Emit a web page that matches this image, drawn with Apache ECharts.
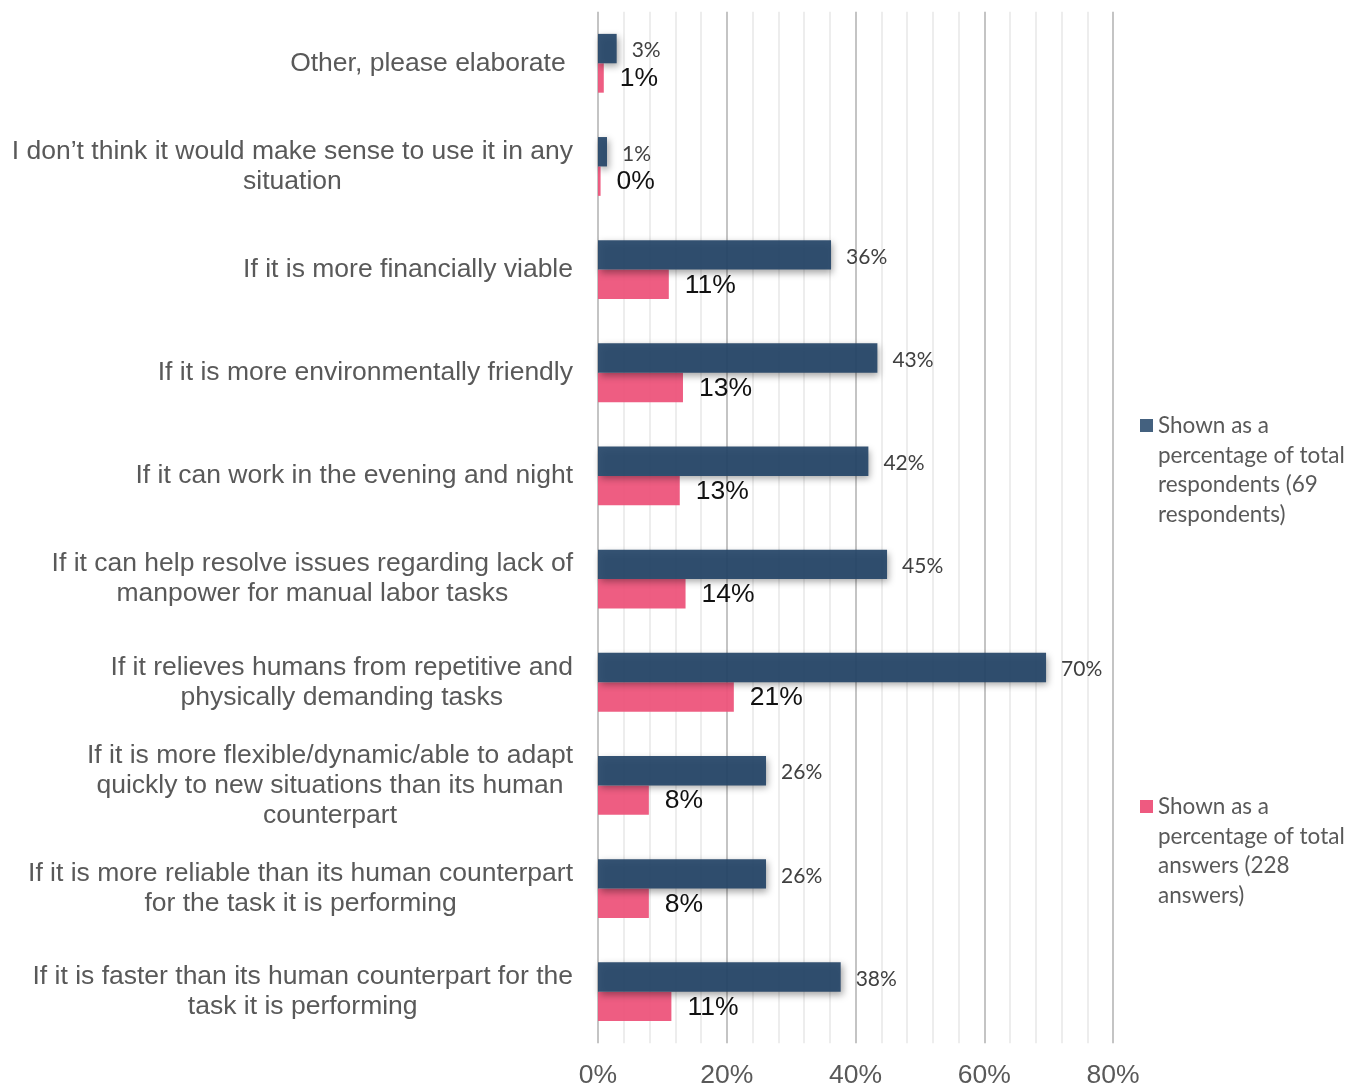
<!DOCTYPE html>
<html>
<head>
<meta charset="utf-8">
<title>Conditions for using it</title>
<script src="https://cdn.jsdelivr.net/npm/echarts@6/dist/echarts.min.js"></script>
<style>
  html, body { margin: 0; padding: 0; background: #ffffff; }
  #chart { width: 1360px; height: 1086px; }
</style>
</head>
<body>
<div id="chart"></div>
<script>
// Answer options, listed top to bottom (line breaks as they are set on the axis)
const categories = [
  'Other, please elaborate ',
  'I don\u2019t think it would make sense to use it in any\nsituation',
  'If it is more financially viable',
  'If it is more environmentally friendly',
  'If it can work in the evening and night',
  'If it can help resolve issues regarding lack of\nmanpower for manual labor tasks',
  'If it relieves humans from repetitive and\nphysically demanding tasks',
  'If it is more flexible/dynamic/able to adapt\nquickly to new situations than its human\ncounterpart',
  'If it is more reliable than its human counterpart\nfor the task it is performing',
  'If it is faster than its human counterpart for the\ntask it is performing'
];

// Share of all respondents (69 respondents), in percent
const respondentShare = [2.9, 1.4, 36.2, 43.4, 42.0, 44.9, 69.6, 26.1, 26.1, 37.7];

// Share of all answers given (228 answers), in percent
const answerShare = [0.9, 0.4, 11.0, 13.2, 12.7, 13.6, 21.1, 7.9, 7.9, 11.4];

const seriesNames = [
  'Shown as a percentage of total respondents (69 respondents)',
  'Shown as a percentage of total answers (228 answers)'
];

const xTicks = { min: 0, max: 80, step: 20 };

const navy = 'rgba(38, 70, 104, 0.93)';
const pink = 'rgba(237, 84, 123, 0.95)';

const pct = v => Math.round(v) + '%';

// Legend swatch sits beside the first of four wrapped text lines:
// a 13px square near the top of a tall, otherwise empty icon box.
const LEGEND_LINE = 29.5;
const LEGEND_LINES = 4;
const legendBoxH = LEGEND_LINE * LEGEND_LINES;
const swatchIcon = 'path://M0,0L0,0M0,8L13,8L13,21L0,21ZM0,' + legendBoxH + 'L0,' + legendBoxH;

const legendText = {
  fontFamily: 'Lato',
  fontSize: 22.5,
  color: '#595959',
  lineHeight: LEGEND_LINE,
  width: 196,
  overflow: 'break'
};

function legendFor(name, color, top) {
  return {
    orient: 'vertical',
    left: 1140,
    top: top,
    padding: 0,
    itemWidth: 13,
    itemHeight: legendBoxH,
    itemGap: 0,
    icon: swatchIcon,
    selectedMode: false,
    data: [{ name: name, itemStyle: { color: color, borderWidth: 0 } }],
    textStyle: legendText
  };
}

const chart = echarts.init(document.getElementById('chart'), null, { renderer: 'canvas' });

chart.setOption({
  animation: false,
  backgroundColor: '#ffffff',
  textStyle: { fontFamily: 'Liberation Sans' },
  grid: {
    left: 598, right: 247, top: 11.7, bottom: 42.7,
    containLabel: false,
    outerBoundsMode: 'none'
  },
  legend: [
    legendFor(seriesNames[0], '#44617f', 411),
    legendFor(seriesNames[1], '#ee5a80', 792)
  ],
  xAxis: {
    type: 'value',
    min: xTicks.min,
    max: xTicks.max,
    interval: xTicks.step,
    axisLine: { show: false },
    axisTick: { show: false },
    axisLabel: {
      formatter: v => v + '%',
      fontFamily: 'Liberation Sans',
      fontSize: 26.5,
      color: '#595959',
      margin: 19
    },
    splitLine: { show: true, lineStyle: { color: '#c4c4c4', width: 2 } },
    minorTick: { show: false, splitNumber: 5 },
    minorSplitLine: { show: true, lineStyle: { color: '#e8e8e8', width: 1.5 } }
  },
  yAxis: {
    type: 'category',
    inverse: true,
    data: categories,
    axisLine: { show: false },
    axisTick: { show: false },
    splitLine: { show: false },
    axisLabel: {
      margin: 25,
      interval: 0,
      fontFamily: 'Liberation Sans',
      fontSize: 26.5,
      color: '#595959',
      lineHeight: 30,
      formatter: v => v.split('\n').map(line => '{c|' + line + '}').join('\n'),
      rich: {
        c: {
          align: 'center',
          fontFamily: 'Liberation Sans',
          fontSize: 26.5,
          color: '#595959',
          lineHeight: 30
        }
      }
    }
  },
  series: [
    {
      name: seriesNames[0],
      type: 'bar',
      data: respondentShare,
      barGap: '0%',
      barCategoryGap: '43%',
      z: 3,
      itemStyle: {
        color: navy,
        shadowColor: 'rgba(0, 0, 0, 0.38)',
        shadowBlur: 7,
        shadowOffsetX: 2,
        shadowOffsetY: 3
      },
      label: {
        show: true,
        position: 'right',
        distance: 15,
        offset: [0, 2],
        formatter: p => pct(p.value),
        fontFamily: 'Lato',
        fontSize: 21,
        color: '#404040'
      }
    },
    {
      name: seriesNames[1],
      type: 'bar',
      data: answerShare,
      barGap: '0%',
      barCategoryGap: '43%',
      z: 2,
      itemStyle: { color: pink },
      label: {
        show: true,
        position: 'right',
        distance: 16,
        offset: [0, 1],
        formatter: p => pct(p.value),
        fontFamily: 'Liberation Sans',
        fontSize: 26.5,
        color: '#111111'
      }
    }
  ]
});
</script>
</body>
</html>
